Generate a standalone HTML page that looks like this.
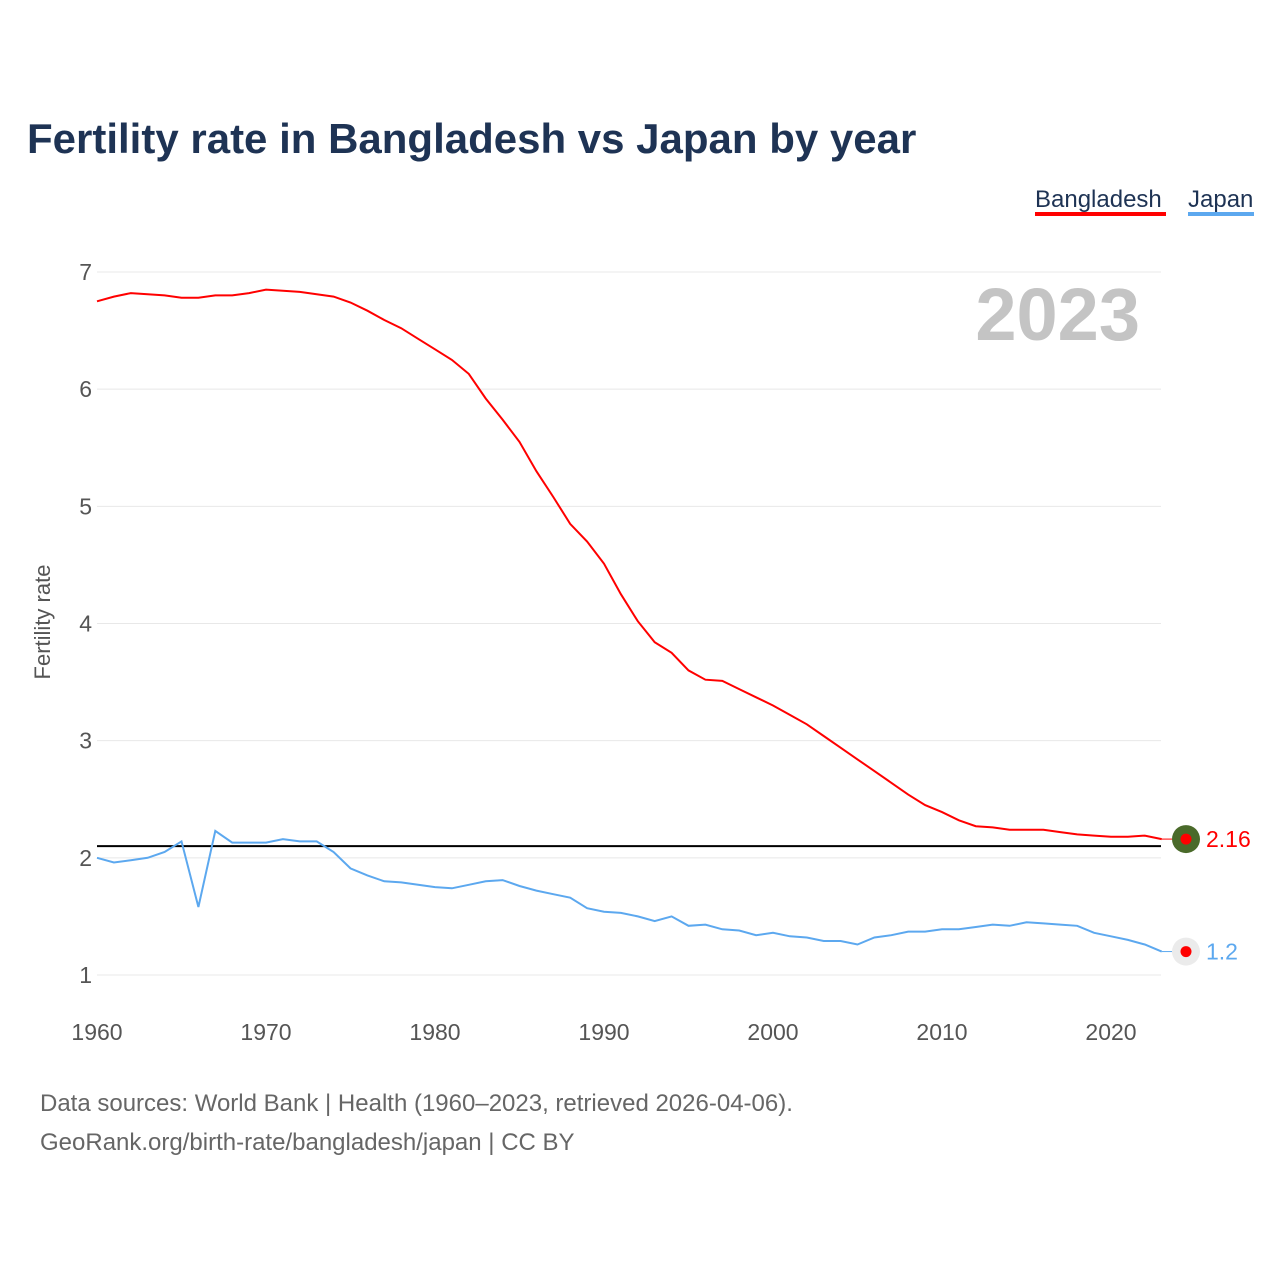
<!DOCTYPE html>
<html><head><meta charset="utf-8">
<style>
body{margin:0;background:#fff;}
svg{display:block;font-family:"Liberation Sans",sans-serif;}
</style></head>
<body>
<svg id="chart" width="1280" height="1280" viewBox="0 0 1280 1280">
<rect width="1280" height="1280" fill="#fff"/>
<text x="27" y="153" font-size="42" font-weight="bold" fill="#1e3354">Fertility rate in Bangladesh vs Japan by year</text>
<g>
<g>
<text x="1035" y="207" font-size="24" fill="#1e3354">Bangladesh</text>
<rect x="1035" y="212" width="131" height="4" fill="#ff0000"/>
</g>
<g>
<text x="1188" y="207" font-size="24" fill="#1e3354">Japan</text>
<rect x="1188" y="212" width="66" height="4" fill="#5ca8ef"/>
</g>
</g>
<text x="1140" y="340" font-size="74" font-weight="bold" fill="#c4c4c4" text-anchor="end">2023</text>
<text transform="translate(50,622) rotate(-90)" font-size="22" fill="#555" text-anchor="middle">Fertility rate</text>
<g id="grid"></g><g id="yticks"></g><g id="xticks"></g><g id="series"></g>
<text x="40" y="1111" font-size="24" fill="#666">Data sources: World Bank | Health (1960–2023, retrieved 2026-04-06).</text>
<text x="40" y="1150" font-size="24" fill="#666">GeoRank.org/birth-rate/bangladesh/japan | CC BY</text>
</svg>
<script>
const years = [];
for (let y = 1960; y <= 2023; y++) years.push(y);
const bangladesh = [6.75,6.79,6.82,6.81,6.80,6.78,6.78,6.80,6.80,6.82,6.85,6.84,6.83,6.81,6.79,6.74,6.67,6.59,6.52,6.43,6.34,6.25,6.13,5.92,5.74,5.55,5.30,5.08,4.85,4.70,4.51,4.25,4.02,3.84,3.75,3.60,3.52,3.51,3.44,3.37,3.30,3.22,3.14,3.04,2.94,2.84,2.74,2.64,2.54,2.45,2.39,2.32,2.27,2.26,2.24,2.24,2.24,2.22,2.20,2.19,2.18,2.18,2.19,2.16];
const japan = [2.00,1.96,1.98,2.00,2.05,2.14,1.58,2.23,2.13,2.13,2.13,2.16,2.14,2.14,2.05,1.91,1.85,1.80,1.79,1.77,1.75,1.74,1.77,1.80,1.81,1.76,1.72,1.69,1.66,1.57,1.54,1.53,1.50,1.46,1.50,1.42,1.43,1.39,1.38,1.34,1.36,1.33,1.32,1.29,1.29,1.26,1.32,1.34,1.37,1.37,1.39,1.39,1.41,1.43,1.42,1.45,1.44,1.43,1.42,1.36,1.33,1.30,1.26,1.20];
const yTicks = [1,2,3,4,5,6,7];
const xTicks = [1960,1970,1980,1990,2000,2010,2020];
const replacementRate = [2.1];

const NS = "http://www.w3.org/2000/svg";
const xS = v => 97 + (v - 1960) * (1014 / 60);
const yS = v => 975 - (v - 1) * (703 / 6);
function mk(tag, attrs, parent) {
  const e = document.createElementNS(NS, tag);
  for (const k in attrs) e.setAttribute(k, attrs[k]);
  parent.appendChild(e);
  return e;
}
const grid = document.getElementById('grid'), yt = document.getElementById('yticks'), xt = document.getElementById('xticks'), ser = document.getElementById('series');
yTicks.forEach(t => {
  const l = mk('line', {x1: 97, x2: 1161, y1: yS(t), y2: yS(t), stroke: '#e8e8e8', 'stroke-width': 1}, grid);
  
  
  const tx = mk('text', {x: 92, y: yS(t) + 8, 'font-size': 23, fill: '#555', 'text-anchor': 'end'}, yt);
  tx.textContent = t;
  
  
});
xTicks.forEach(t => {
  const tx = mk('text', {x: xS(t), y: 1040, 'font-size': 23, fill: '#555', 'text-anchor': 'middle'}, xt);
  tx.textContent = t;
  
  
});
const rl = mk('line', {x1: 97, x2: 1161, y1: yS(replacementRate[0]), y2: yS(replacementRate[0]), stroke: '#000', 'stroke-width': 2}, ser);


function series(vals, color, name, markerFill, labelText) {
  const d = vals.map((v, i) => (i ? 'L' : 'M') + xS(years[i]).toFixed(1) + ',' + yS(v).toFixed(1)).join(' ');
  const p = mk('path', {d: d, fill: 'none', stroke: color, 'stroke-width': 2}, ser);
  
  
  const last = vals[vals.length - 1];
  const ly = yS(last);
  const c = mk('line', {x1: xS(2023), x2: 1172, y1: ly, y2: ly, stroke: color, 'stroke-width': 1}, ser);
  
  
  const m = mk('circle', {cx: 1186, cy: ly, r: 14, fill: markerFill}, ser);
  
  
  const dot = mk('circle', {cx: 1186, cy: ly, r: 5.5, fill: '#ff0000'}, ser);
  
  
  const t = mk('text', {x: 1206, y: ly + 8, 'font-size': 23, fill: color}, ser);
  t.textContent = labelText;
  
  
}
series(bangladesh, '#ff0000', 'bangladesh', '#4a6a2a', '2.16');
series(japan, '#5ca8ef', 'japan', '#ebebeb', '1.2');
</script>
</body></html>
